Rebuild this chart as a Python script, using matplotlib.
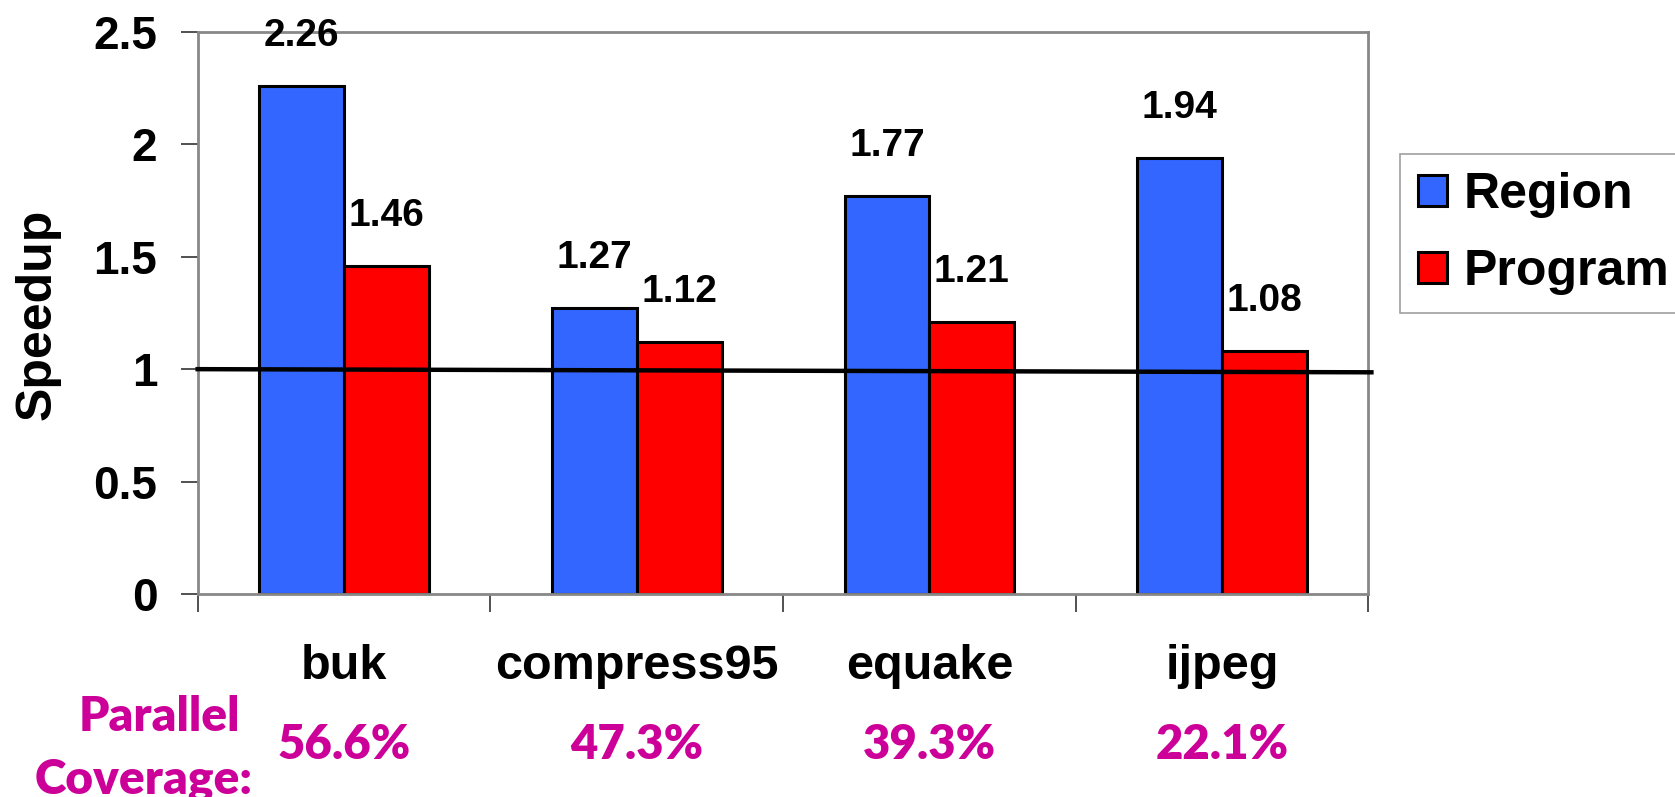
#!/usr/bin/env python3

import numpy as np
import matplotlib as mpl
import matplotlib.pyplot as plt
from matplotlib.transforms import blended_transform_factory

mpl.use('Agg')

# +
# data
# -
benchmarks = ['buk', 'compress95', 'equake', 'ijpeg']
region = [2.26, 1.27, 1.77, 1.94]
program = [1.46, 1.12, 1.21, 1.08]
coverage = ['56.6%', '47.3%', '39.3%', '22.1%']
yticks = [0, 0.5, 1, 1.5, 2, 2.5]

BLUE = '#3366FF'
RED = '#FF0000'
MAGENTA = '#CC0099'
GREY = '#888888'
COV_FONT = ['Lato', 'DejaVu Sans']

plt.rcParams['font.family'] = ['Liberation Sans', 'DejaVu Sans']
plt.rcParams['font.weight'] = 'bold'

# +
# set up plot
# -
fig = plt.figure(figsize=(16.75, 7.97), dpi=100)
ax = fig.add_axes([0.118, 0.2547, 0.699, 0.7053])

x = np.arange(len(benchmarks))
w = 0.29
b1 = ax.bar(x - w / 2, region, w, color=BLUE, edgecolor='black', linewidth=2.2, label='Region', zorder=2)
b2 = ax.bar(x + w / 2, program, w, color=RED, edgecolor='black', linewidth=2.2, label='Program', zorder=2)

# value labels above each bar
for bars, vals in ((b1, region), (b2, program)):
    for r, v in zip(bars, vals):
        ax.annotate(f'{v:.2f}', (r.get_x() + r.get_width() / 2, v), xytext=(0, 36),
                    textcoords='offset points', ha='center', va='center',
                    fontsize=28, fontweight='bold')

# baseline speedup of 1
ax.plot([-0.5, 3.51], [1.0, 0.986], color='black', linewidth=3.2, zorder=3, clip_on=False)

# axes
ax.set_xlim(-0.5, 3.5)
ax.set_ylim(0, 2.5)
ax.set_yticks(yticks)
ax.set_yticklabels([f'{t:g}' for t in yticks], fontsize=33, fontweight='bold')
ax.tick_params(axis='y', length=12, width=1.2, color='#333333', pad=17)

ax.set_xticks(np.arange(-0.5, len(benchmarks), 1.0))
ax.set_xticklabels([])
ax.tick_params(axis='x', which='major', length=13, width=1.2, color='#333333')
ax.set_xticks(x, minor=True)
ax.set_xticklabels(benchmarks, minor=True, fontsize=35, fontweight='bold')
ax.tick_params(axis='x', which='minor', length=0, pad=36)

for s in ax.spines.values():
    s.set_color(GREY)
    s.set_linewidth(2)

ax.set_ylabel('Speedup', fontsize=36, fontweight='bold')
ax.yaxis.set_label_coords(-0.117, 0.497)

# legend
leg = ax.legend(loc='upper left', bbox_to_anchor=(0.836, 0.807), bbox_transform=fig.transFigure,
                fontsize=36, frameon=True, fancybox=False, edgecolor=GREY,
                handlelength=0.57, handleheight=0.57, handletextpad=0.33,
                labelspacing=0.62, borderpad=0.36, borderaxespad=0)
leg.get_frame().set_linewidth(1.2)

# parallel coverage row
trans = blended_transform_factory(ax.transData, fig.transFigure)
for xi, c in zip(x, coverage):
    ax.text(xi, 0.065, c, transform=trans, ha='center', va='center',
            fontsize=34, fontweight='heavy', color=MAGENTA, family=COV_FONT)
fig.text(0.1433, 0.101, 'Parallel', ha='right', va='center', fontsize=34.5,
         fontweight='heavy', color=MAGENTA, family=COV_FONT)
fig.text(0.151, 0.0215, 'Coverage:', ha='right', va='center', fontsize=34.5,
         fontweight='heavy', color=MAGENTA, family=COV_FONT)

plt.savefig('out.png', dpi=100)
